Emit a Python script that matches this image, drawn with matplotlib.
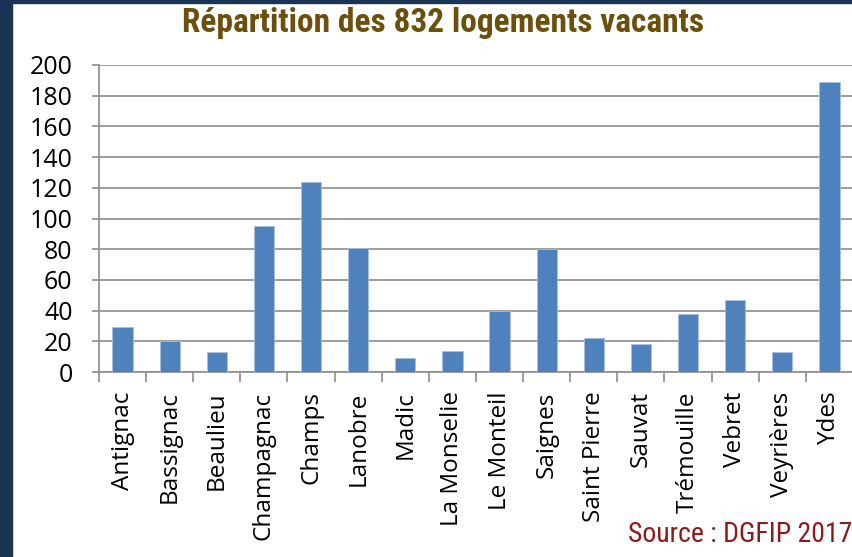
import matplotlib.pyplot as plt
import matplotlib.patches as mpatches
from matplotlib import font_manager
import numpy as np

communes = ["Antignac", "Bassignac", "Beaulieu", "Champagnac", "Champs", "Lanobre",
            "Madic", "La Monselie", "Le Monteil", "Saignes", "Saint Pierre", "Sauvat",
            "Trémouille", "Vebret", "Veyrières", "Ydes"]
logements = [29, 20, 13, 95, 124, 81, 9, 14, 40, 80, 22, 18, 38, 47, 13, 189]
yTicks = list(range(0, 201, 20))

gridColor = "#8c8c8c"
barColor = "#4f81bd"

# pick a narrow family if one is there
names = set(f.name for f in font_manager.fontManager.ttflist)
narrow = [n for n in ["Liberation Sans Narrow", "DejaVu Sans Condensed", "Roboto Condensed"] if n in names]
narrowFamily = narrow + ["DejaVu Sans"]

fig = plt.figure(figsize=(8.53, 5.57), dpi=100)

# dark frame on the left and top
fig.patches.append(mpatches.Rectangle((0, 0), 12 / 853, 1, transform=fig.transFigure,
                                      color="#1b3453", zorder=0))
fig.patches.append(mpatches.Rectangle((0, 1 - 3 / 557), 1, 3 / 557, transform=fig.transFigure,
                                      color="#1b3453", zorder=0))

ax = fig.add_axes([99 / 853, 1 - 372 / 557, 754 / 853, 307 / 557])
x = np.arange(len(communes))
ax.bar(x, logements, width=0.43, color=barColor, edgecolor="#a9c0de", linewidth=0.6, zorder=3)

ax.set_xlim(-0.5, len(communes) - 0.5)
ax.set_ylim(0, 200)
ax.set_yticks(yTicks)
ax.yaxis.grid(True, color=gridColor, linewidth=1.2, zorder=0)

for s in ["top", "right"]:
    ax.spines[s].set_visible(False)
for s in ["left", "bottom"]:
    ax.spines[s].set_color(gridColor)
    ax.spines[s].set_linewidth(1.2)

tickFont = "Open Sans"
ax.set_xticks(x)
ax.set_xticklabels(communes, rotation=90, fontsize=17.5, family=tickFont)
ax.set_xticks(np.arange(len(communes) + 1) - 0.5, minor=True)
ax.tick_params(axis="x", which="major", length=0, pad=14)
ax.tick_params(axis="x", which="minor", length=7.5, width=1.2, color=gridColor)
ax.tick_params(axis="y", length=5, width=1.2, color=gridColor, pad=14)
for lab in ax.get_yticklabels():
    lab.set_fontsize(18)
    lab.set_family(tickFont)

fig.text(0.519, 0.958, "Répartition des 832 logements vacants", ha="center", va="center",
         fontsize=24, fontweight="bold", color="#6b4f0b", family=narrowFamily)
fig.text(852 / 853, 1 - 535 / 557, "Source : DGFIP 2017", ha="right", va="center",
         fontsize=20, color="#8b1c1c", family=narrowFamily)

plt.savefig("out.png", dpi=100)
